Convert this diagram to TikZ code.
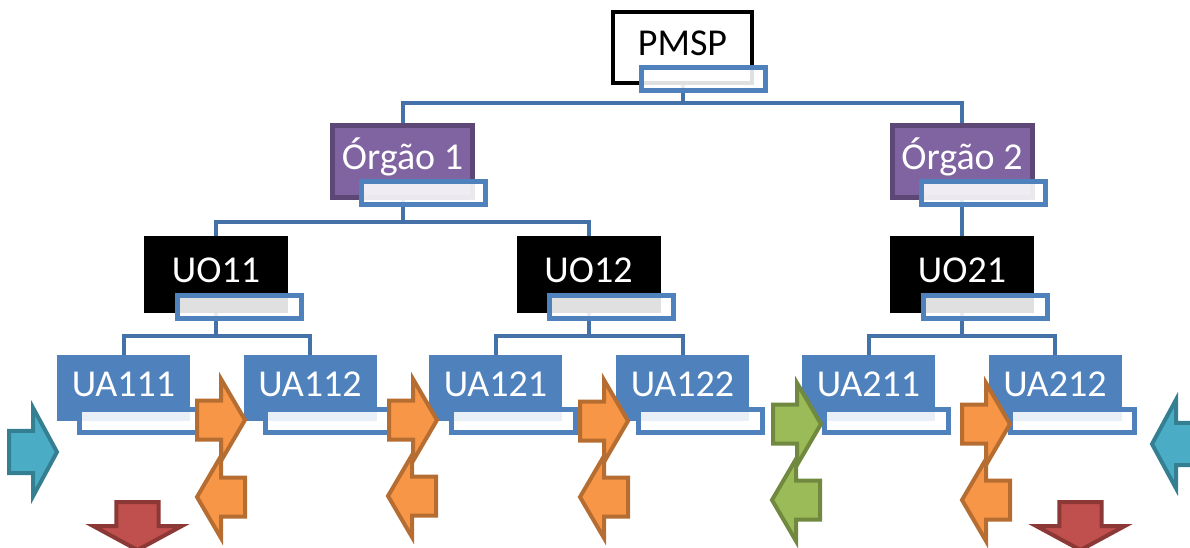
\documentclass[tikz,border=0pt]{standalone}
\usepackage{fontspec}
\setmainfont{Carlito}
\usetikzlibrary{calc,backgrounds}

\definecolor{uablue}{RGB}{79,129,189}
\definecolor{linkblue}{RGB}{68,114,168}
\definecolor{orgfill}{RGB}{128,100,162}
\definecolor{orgline}{RGB}{92,71,118}
\definecolor{orfill}{RGB}{247,150,70}
\definecolor{orline}{RGB}{182,109,49}
\definecolor{grfill}{RGB}{155,187,89}
\definecolor{grline}{RGB}{113,137,63}
\definecolor{cyfill}{RGB}{75,172,198}
\definecolor{cyline}{RGB}{53,127,146}
\definecolor{rdfill}{RGB}{192,80,77}
\definecolor{rdline}{RGB}{140,56,54}

\tikzset{
	box/.style={shape=rectangle, outer sep=0pt, inner sep=0pt, text height=24.5pt, text depth=8pt, font=\fontsize{38}{40}\selectfont},
	rootbox/.style={box, draw=black, line width=4pt, fill=white, minimum width=139pt, minimum height=71pt},
	orgao/.style={box, draw=orgline, line width=5pt, fill=orgfill, text=white, minimum width=140pt, minimum height=72pt},
	uo/.style={box, fill=black, text=white, minimum width=144pt, minimum height=77pt},
	ua/.style={box, fill=uablue, text=white, minimum width=133pt, minimum height=66pt},
	subbox/.style={shape=rectangle, outer sep=0pt, inner sep=0pt, draw=uablue, line width=5pt, fill=white, fill opacity=0.88, minimum width=124pt, minimum height=23pt, anchor=north east},
	link/.style={draw=linkblue, line width=4pt},
	blockarrow/.pic={
		\path[pic actions] (0,0) -- (-24,-41) -- (-24,-19.5) -- (-48,-19.5) -- (-48,19.5) -- (-24,19.5) -- (-24,41) -- cycle;
	},
	orarrow/.style={fill=orfill, draw=orline, line width=4pt},
	grarrow/.style={fill=grfill, draw=grline, line width=4pt},
	cyarrow/.style={fill=cyfill, draw=cyline, line width=4pt},
	rdarrow/.style={fill=rdfill, draw=rdline, line width=4pt}
}

\begin{document}
\begin{tikzpicture}[x=1pt, y=-1pt]
	\useasboundingbox (0,0) rectangle (1190,547);

	\node[rootbox] (pmsp) at (682.5, 47.5)   {PMSP};
	\node[orgao]   (org1) at (402.5, 161.5)  {Órgão 1};
	\node[orgao]   (org2) at (962, 161.5)    {Órgão 2};
	\node[uo]      (uo11) at (216, 274.5)    {UO11};
	\node[uo]      (uo12) at (588.5, 274.5)  {UO12};
	\node[uo]      (uo21) at (962, 274.5)    {UO21};
	\node[ua]      (ua111) at (123.5, 388)   {UA111};
	\node[ua]      (ua112) at (310, 388)     {UA112};
	\node[ua]      (ua121) at (495.5, 388)   {UA121};
	\node[ua]      (ua122) at (682.5, 388)   {UA122};
	\node[ua]      (ua211) at (868.5, 388)   {UA211};
	\node[ua]      (ua212) at (1055, 388)    {UA212};

	% linhas da hierarquia
	\begin{scope}[on background layer]
	\draw[link] (pmsp.south) -- ++(0,20) -| (org1.north);
	\draw[link] (pmsp.south) -- ++(0,20) -| (org2.north);
	\draw[link] (org1.south) -- ++(0,24.5) -| (uo11.north);
	\draw[link] (org1.south) -- ++(0,24.5) -| (uo12.north);
	\draw[link] (org2.south) -- (uo21.north);
	\draw[link] (uo11.south) -- ++(0,23) -| (ua111.north);
	\draw[link] (uo11.south) -- ++(0,23) -| (ua112.north);
	\draw[link] (uo12.south) -- ++(0,23) -| (ua121.north);
	\draw[link] (uo12.south) -- ++(0,23) -| (ua122.north);
	\draw[link] (uo21.south) -- ++(0,23) -| (ua211.north);
	\draw[link] (uo21.south) -- ++(0,23) -| (ua212.north);
	\end{scope}

	% caixas de texto
	\node[subbox] (pmspS) at ($(pmsp.south east)+(13,-16)$) {};
	\node[subbox] (org1S) at ($(org1.south east)+(13,-16)$) {};
	\node[subbox] (org2S) at ($(org2.south east)+(13,-16)$) {};
	\node[subbox] (uo11S) at ($(uo11.south east)+(13,-18)$) {};
	\node[subbox] (uo12S) at ($(uo12.south east)+(13,-18)$) {};
	\node[subbox] (uo21S) at ($(uo21.south east)+(13,-18)$) {};
	\node[subbox] (ua111S) at ($(ua111.south east)+(13,-12)$) {};
	\node[subbox] (ua112S) at ($(ua112.south east)+(13,-12)$) {};
	\node[subbox] (ua121S) at ($(ua121.south east)+(13,-12)$) {};
	\node[subbox] (ua122S) at ($(ua122.south east)+(13,-12)$) {};
	\node[subbox] (ua211S) at ($(ua211.south east)+(13,-12)$) {};
	\node[subbox] (ua212S) at ($(ua212.south east)+(13,-12)$) {};

	% setas
	\pic[orarrow] at (245, 420) {blockarrow};
	\pic[orarrow, rotate=180] at (197, 497) {blockarrow};
	\pic[orarrow] at (437, 420) {blockarrow};
	\pic[orarrow, rotate=180] at (388, 496) {blockarrow};
	\pic[orarrow] at (628, 421) {blockarrow};
	\pic[orarrow, rotate=180] at (580, 497) {blockarrow};
	\pic[grarrow] at (821, 424) {blockarrow};
	\pic[grarrow, rotate=180] at (772, 500) {blockarrow};
	\pic[orarrow] at (1010, 424) {blockarrow};
	\pic[orarrow, rotate=180] at (962, 500) {blockarrow};
	\pic[cyarrow, yscale=1.08] at (57, 452) {blockarrow};
	\pic[cyarrow, rotate=180, yscale=1.08] at (1152, 444) {blockarrow};
	\pic[rdarrow, rotate=-90, yscale=1.08] at (137.5, 550) {blockarrow};
	\pic[rdarrow, rotate=-90, yscale=1.08] at (1080.5, 550) {blockarrow};

\end{tikzpicture}
\end{document}
